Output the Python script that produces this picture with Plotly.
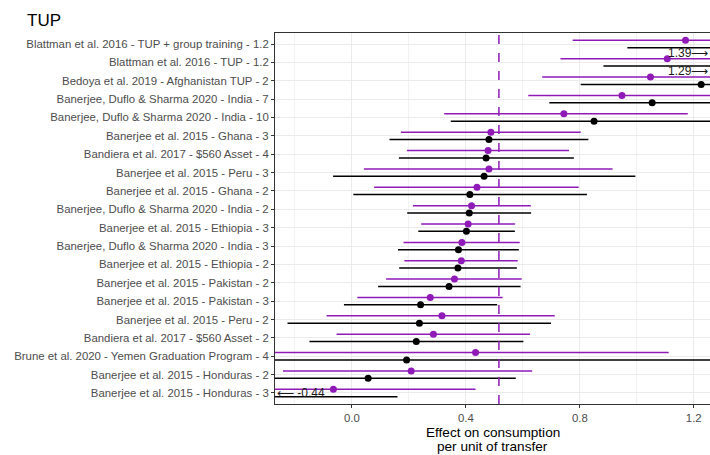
import plotly.graph_objects as go

labels = [
    "Blattman et al. 2016 - TUP + group training - 1.2",
    "Blattman et al. 2016 - TUP - 1.2",
    "Bedoya et al. 2019 - Afghanistan TUP - 2",
    "Banerjee, Duflo & Sharma 2020 - India - 7",
    "Banerjee, Duflo & Sharma 2020 - India - 10",
    "Banerjee et al. 2015 - Ghana - 3",
    "Bandiera et al. 2017 - $560 Asset - 4",
    "Banerjee et al. 2015 - Peru - 3",
    "Banerjee et al. 2015 - Ghana - 2",
    "Banerjee, Duflo & Sharma 2020 - India - 2",
    "Banerjee et al. 2015 - Ethiopia - 3",
    "Banerjee, Duflo & Sharma 2020 - India - 3",
    "Banerjee et al. 2015 - Ethiopia - 2",
    "Banerjee et al. 2015 - Pakistan - 2",
    "Banerjee et al. 2015 - Pakistan - 3",
    "Banerjee et al. 2015 - Peru - 2",
    "Bandiera et al. 2017 - $560 Asset - 2",
    "Brune et al. 2020 - Yemen Graduation Program - 4",
    "Banerjee et al. 2015 - Honduras - 2",
    "Banerjee et al. 2015 - Honduras - 3",
]

# purple series (estimate, lower, upper)
purple_est = [1.171, 1.107, 1.048, 0.948, 0.744, 0.488, 0.478, 0.481, 0.439, 0.420,
              0.408, 0.386, 0.384, 0.360, 0.275, 0.316, 0.286, 0.434, 0.208, -0.065]
purple_lo = [0.775, 0.732, 0.668, 0.619, 0.324, 0.172, 0.193, 0.042, 0.078, 0.214,
             0.243, 0.181, 0.184, 0.120, 0.019, -0.089, -0.054, -0.30, -0.242, -0.56]
purple_hi = [1.57, 1.48, 1.43, 1.28, 1.179, 0.803, 0.762, 0.915, 0.796, 0.628,
             0.573, 0.589, 0.582, 0.596, 0.529, 0.712, 0.625, 1.112, 0.633, 0.434]

# black series (estimate, lower, upper)
black_est = [1.39, 1.29, 1.226, 1.054, 0.850, 0.481, 0.471, 0.464, 0.414, 0.412,
             0.402, 0.374, 0.372, 0.341, 0.241, 0.237, 0.226, 0.192, 0.057, -0.44]
black_lo = [0.967, 0.883, 0.803, 0.693, 0.347, 0.132, 0.165, -0.066, 0.005, 0.194,
            0.233, 0.162, 0.166, 0.092, -0.028, -0.226, -0.149, -0.90, -0.46, -1.04]
black_hi = [1.81, 1.70, 1.65, 1.41, 1.35, 0.830, 0.779, 0.995, 0.825, 0.629,
            0.572, 0.586, 0.579, 0.592, 0.510, 0.699, 0.602, 1.28, 0.575, 0.160]

ref_value = 0.516
x_ticks = [0.0, 0.4, 0.8, 1.2]
x_range = [-0.27, 1.257]

PURPLE = "#8F1AB8"
BLACK = "#000000"
n = len(labels)
rows = [n - i for i in range(n)]
dodge = 0.2

fig = go.Figure()


def add_series(est, lo, hi, offset, color):
    xs, ys = [], []
    for r, a, b in zip(rows, lo, hi):
        xs += [a, b, None]
        ys += [r + offset, r + offset, None]
    fig.add_trace(go.Scatter(x=xs, y=ys, mode="lines",
                             line=dict(color=color, width=1.5),
                             hoverinfo="skip", showlegend=False))
    fig.add_trace(go.Scatter(x=est, y=[r + offset for r in rows], mode="markers",
                             marker=dict(color=color, size=7),
                             cliponaxis=True, showlegend=False))
    for r, v in zip(rows, est):
        if v > x_range[1]:
            fig.add_annotation(x=1, xref="paper", y=r + offset, yref="y",
                               yshift=-5,
                               text=f"{v:.2f}\u27f6", showarrow=False,
                               xanchor="right", yanchor="middle",
                               font=dict(size=12, color="#1a1a1a"))
        elif v < x_range[0]:
            fig.add_annotation(x=0, xref="paper", y=r + offset, yref="y",
                               yshift=3.5,
                               text=f"\u27f5 {v:.2f}", showarrow=False,
                               xanchor="left", yanchor="middle",
                               font=dict(size=12, color="#1a1a1a"))


add_series(purple_est, purple_lo, purple_hi, dodge, PURPLE)
add_series(black_est, black_lo, black_hi, -dodge, BLACK)

fig.add_shape(type="line", x0=ref_value, x1=ref_value, xref="x",
              y0=0, y1=1, yref="paper",
              line=dict(color=PURPLE, width=1.5, dash="dash"))

fig.update_layout(
    width=710, height=455,
    margin=dict(l=275, r=0, t=33, b=51),
    paper_bgcolor="white", plot_bgcolor="white",
    font=dict(family="Liberation Sans, Arial, sans-serif"),
    title=dict(text="TUP", x=27 / 710, xref="container", xanchor="left",
               y=1 - 20 / 455, yref="container", yanchor="middle",
               font=dict(size=17, color="#000000")),
    showlegend=False,
)

fig.update_xaxes(
    range=x_range, tickvals=x_ticks, ticktext=[f"{t:.1f}" for t in x_ticks],
    showgrid=True, gridcolor="#EBEBEB", gridwidth=1,
    minor=dict(tickvals=[-0.2, 0.2, 0.6, 1.0], showgrid=True,
               gridcolor="#F2F2F2", gridwidth=0.6, ticks=""),
    ticks="outside", ticklen=3, tickcolor="#333333",
    tickfont=dict(size=11.4, color="#4D4D4D"),
    showline=True, linecolor="#333333", linewidth=1, mirror=True,
    zeroline=False,
)
fig.update_yaxes(
    range=[0.4, n + 0.6], tickvals=rows, ticktext=labels,
    showgrid=True, gridcolor="#EBEBEB", gridwidth=1,
    ticks="outside", ticklen=3, tickcolor="#333333",
    tickfont=dict(size=11.4, color="#4D4D4D"),
    showline=True, linecolor="#333333", linewidth=1, mirror=True,
    zeroline=False,
)

panel_h = 455 - 33 - 51
for txt, ypix in [("Effect on consumption", 432), ("per unit of transfer", 446.5)]:
    fig.add_annotation(x=0.5, xref="paper", y=-(ypix - 404) / panel_h, yref="paper",
                       text=txt, showarrow=False, xanchor="center", yanchor="middle",
                       font=dict(size=13.6, color="#000000"))

fig.write_html("out.html")
